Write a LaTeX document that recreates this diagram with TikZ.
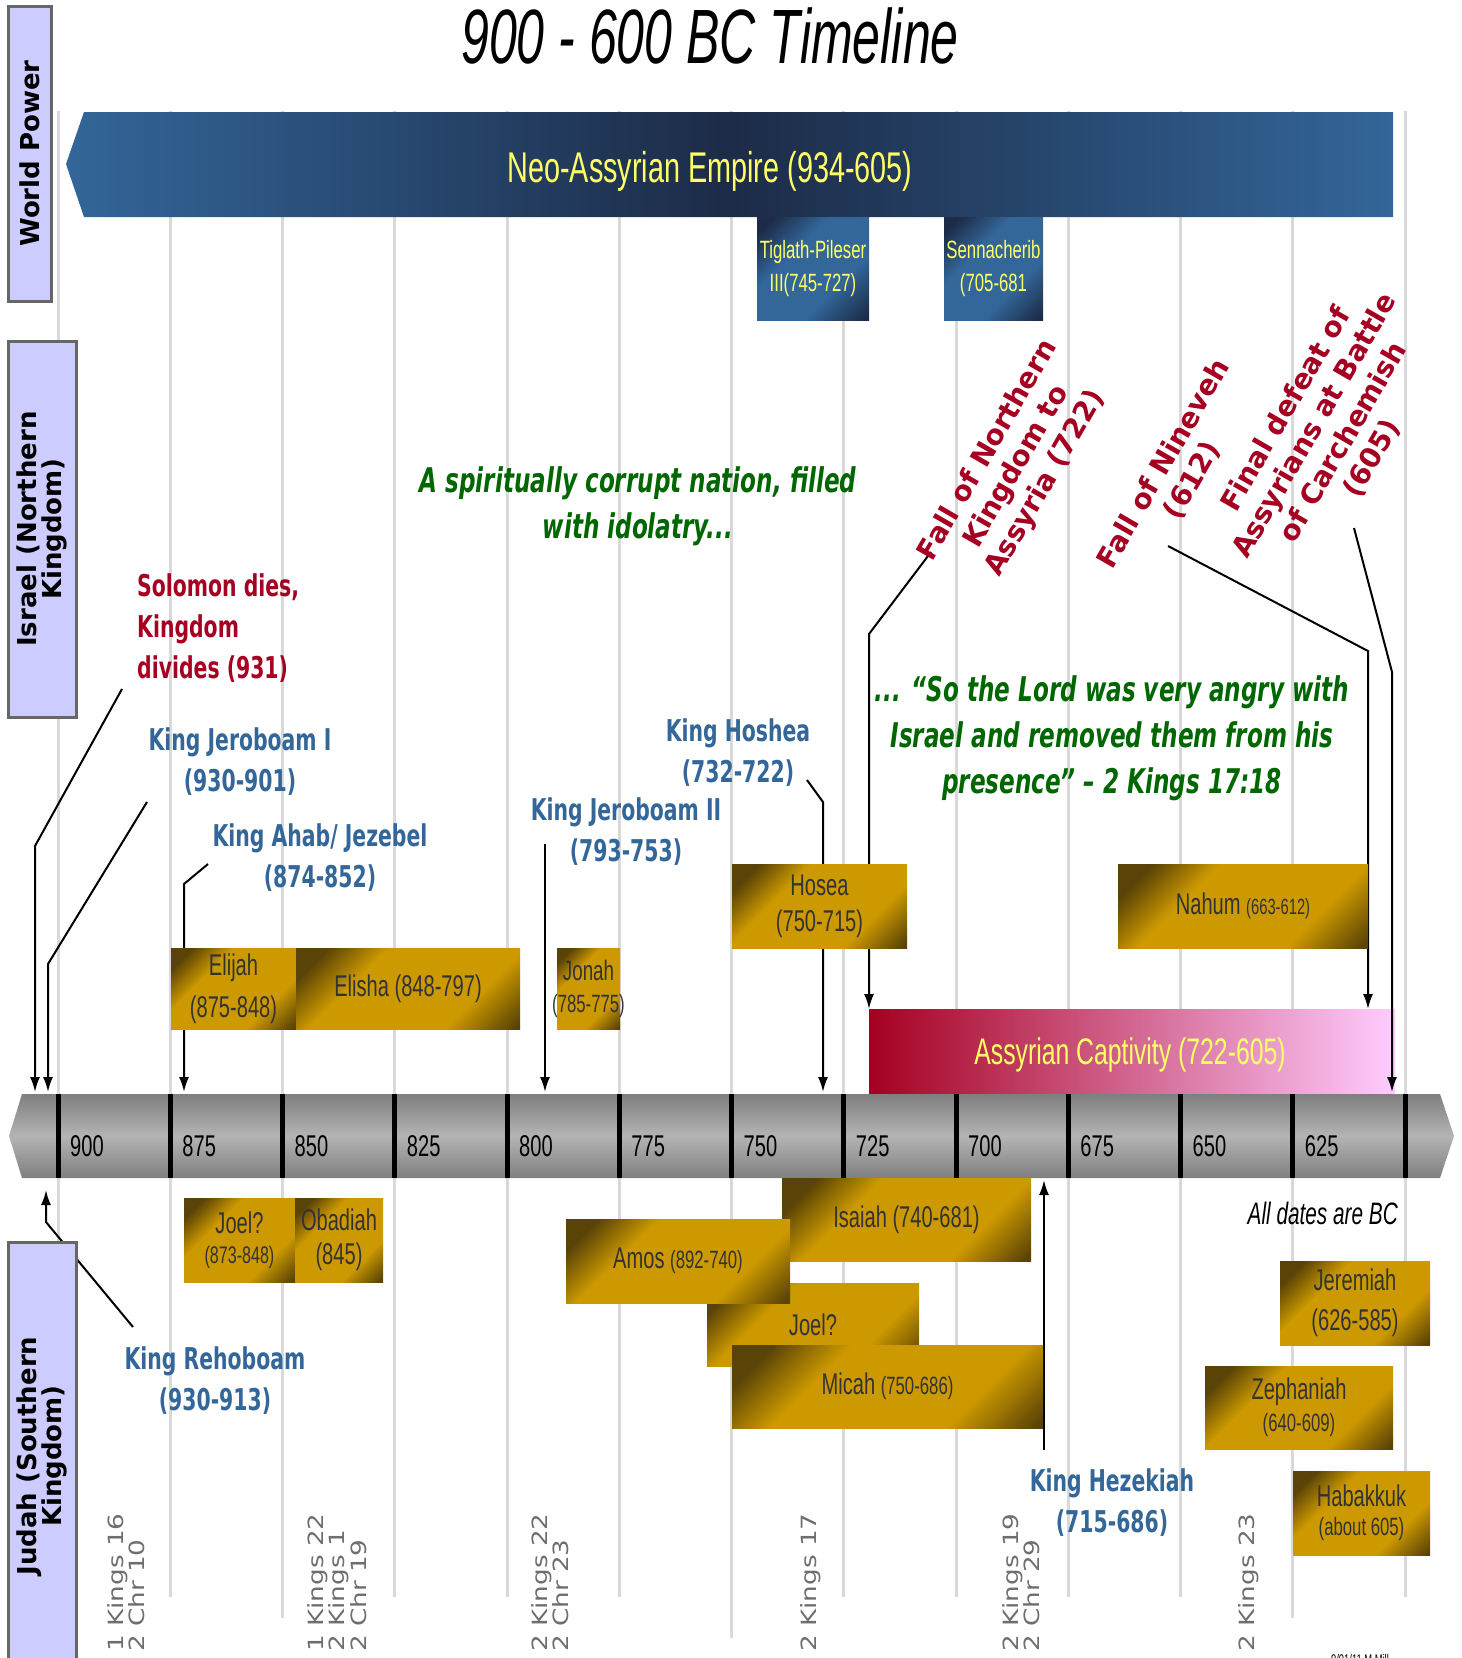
\documentclass[tikz,border=0pt]{standalone}
\usepackage{fontspec}
\setmainfont{Liberation Sans}
\newfontfamily\narrowfont[FakeStretch=0.67]{Liberation Sans}
\newfontfamily\titlefont[FakeStretch=0.65]{Liberation Sans}
\newfontfamily\lblfont[FakeStretch=0.68]{DejaVu Sans}
\newfontfamily\widefont{DejaVu Sans}
\newfontfamily\reffont[FakeStretch=1.25]{DejaVu Sans}
\usetikzlibrary{arrows.meta}

\definecolor{gridgray}{HTML}{D9D9D9}
\definecolor{lavender}{HTML}{CCCCFF}
\definecolor{crimson}{HTML}{A50021}
\definecolor{kingblue}{HTML}{336699}
\definecolor{quotegreen}{HTML}{006600}
\definecolor{yearyellow}{HTML}{FFFF66}
\definecolor{golddk}{HTML}{5A4306}
\definecolor{goldmd}{HTML}{CC9900}
\definecolor{navydk}{HTML}{1C2B47}
\definecolor{navymd}{HTML}{336699}
\definecolor{axisdk}{HTML}{7F7F7F}
\definecolor{axislt}{HTML}{B4B4B4}
\definecolor{captpink}{HTML}{FFCCFF}
\definecolor{boxtext}{HTML}{333333}
\definecolor{refgray}{HTML}{6E6E6E}

\pgfdeclarehorizontalshading{goldshade}{100bp}{color(0bp)=(golddk); color(22bp)=(golddk); color(36bp)=(goldmd); color(68bp)=(goldmd); color(84bp)=(golddk); color(100bp)=(golddk)}
\pgfdeclarehorizontalshading{navyshade}{100bp}{color(0bp)=(navydk); color(20bp)=(navydk); color(38bp)=(navymd); color(64bp)=(navymd); color(84bp)=(navydk); color(100bp)=(navydk)}

\begin{document}
\begin{tikzpicture}[x=1pt,y=-1pt,>={Latex[length=15pt,width=10pt]},
	gridline/.style={gridgray, line width=3pt},
	arr/.style={->, line width=2pt},
	sidebox/.style={draw=black!60, line width=3pt, fill=lavender, rotate=90, align=center, inner sep=0pt, font=\widefont\bfseries\fontsize{26}{25}\selectfont},
	goldbox/.style={shade, shading=goldshade, shading angle=-45, inner sep=0pt, text=boxtext, align=center, font=\narrowfont\fontsize{30}{36}\selectfont},
	navybox/.style={shade, shading=navyshade, shading angle=-45, inner sep=0pt, text=yearyellow, align=center, font=\narrowfont\fontsize{25}{33}\selectfont},
	kinglabel/.style={text=kingblue, align=center, inner sep=0pt, font=\lblfont\bfseries\fontsize{30}{41}\selectfont},
	eventlabel/.style={text=crimson, align=center, rotate=60, inner sep=0pt, font=\widefont\bfseries\fontsize{28}{33}\selectfont},
	quotelabel/.style={text=quotegreen, align=center, inner sep=0pt, font=\lblfont\bfseries\itshape\fontsize{34}{46}\selectfont},
	yearlabel/.style={anchor=west, inner sep=0pt, font=\narrowfont\fontsize{30}{36}\selectfont},
	reflabel/.style={rotate=90, anchor=west, align=left, text=refgray, inner sep=0pt, font=\reffont\fontsize{21}{20}\selectfont}]
	\useasboundingbox (0,0) rectangle (1462,1658);

	% grid
	\foreach \i in {0,...,12}
		\draw[gridline] ({58+112.25*\i},111) -- ({58+112.25*\i},1597);
	\draw[gridline] (282.5,1597) -- (282.5,1618);
	\draw[gridline] (1292.75,1597) -- (1292.75,1618);
	\draw[gridline] (731.5,1597) -- (731.5,1638);

	\node[font=\titlefont\itshape\fontsize{77}{80}\selectfont, anchor=base] (title) at (710,63) {900 - 600 BC Timeline};

	% world power
	\shade[left color=navymd, right color=navymd, middle color=navydk] (66,164) -- (84,112) -- (1393,112) -- (1393,217) -- (84,217) -- cycle;
	\node[text=yearyellow, font=\narrowfont\fontsize{43}{48}\selectfont] (empire) at (710,171) {Neo-Assyrian Empire (934-605)};
	\node[navybox, minimum width=112pt, minimum height=103pt] (tiglath) at (813,268.5) {Tiglath-Pileser\\III(745-727)};
	\node[navybox, minimum width=99pt, minimum height=103pt] (sennach) at (993.5,268.5) {Sennacherib\\(705-681};

	% captivity and time line
	\shade[left color=crimson, right color=captpink] (869,1009) rectangle (1395,1094);
	\node[text=yearyellow, font=\narrowfont\fontsize{37}{40}\selectfont] (captivity) at (1130,1055) {Assyrian Captivity (722-605)};

	\shade[top color=axisdk, bottom color=axisdk, middle color=axislt] (9,1136) -- (22,1094) -- (1440,1094) -- (1454,1136) -- (1440,1178) -- (22,1178) -- cycle;
	\foreach \yr [count=\i from 0] in {900,875,...,625} {
		\draw[line width=5pt] ({58+112.25*\i},1094) -- ({58+112.25*\i},1178);
		\node[yearlabel] (y\yr) at ({70+112.25*\i},1146) {\yr};
	}
	\draw[line width=5pt] (1405,1094) -- (1405,1178);

	% pointers
	\coordinate (solTail) at (122,689);   \coordinate (solBend) at (35,846);   \coordinate (solTip) at (35,1092);
	\coordinate (jerATail) at (147,802);  \coordinate (jerABend) at (48,964);  \coordinate (jerATip) at (48,1092);
	\coordinate (ahabTail) at (208,864);  \coordinate (ahabBend) at (184,884); \coordinate (ahabTip) at (184,1092);
	\coordinate (jerBTail) at (545,844);  \coordinate (jerBTip) at (545,1092);
	\coordinate (hoshTail) at (807,780);  \coordinate (hoshBend) at (823,802); \coordinate (hoshTip) at (823,1092);
	\coordinate (fallTail) at (931,552);  \coordinate (fallBend) at (869,634); \coordinate (fallTip) at (869,1009);
	\coordinate (ninTail) at (1168,546);  \coordinate (ninBend) at (1368,651); \coordinate (ninTip) at (1368,1009);
	\coordinate (carTail) at (1354,528);  \coordinate (carBend) at (1392,672); \coordinate (carTip) at (1392,1092);
	\coordinate (rehTail) at (133,1327);  \coordinate (rehBend) at (46,1222);  \coordinate (rehTip) at (46,1190);
	\coordinate (hezTail) at (1044,1450); \coordinate (hezTip) at (1044,1180);

	\draw[arr] (solTail) -- (solBend) -- (solTip);
	\draw[arr] (jerATail) -- (jerABend) -- (jerATip);
	\draw[arr] (ahabTail) -- (ahabBend) -- (ahabTip);
	\draw[arr] (jerBTail) -- (jerBTip);
	\draw[arr] (hoshTail) -- (hoshBend) -- (hoshTip);
	\draw[arr] (fallTail) -- (fallBend) -- (fallTip);
	\draw[arr] (ninTail) -- (ninBend) -- (ninTip);
	\draw[arr] (carTail) -- (carBend) -- (carTip);
	\draw[arr] (rehTail) -- (rehBend) -- (rehTip);
	\draw[arr] (hezTail) -- (hezTip);

	% prophets of Israel
	\node[goldbox, minimum width=125pt, minimum height=81pt, font=\narrowfont\fontsize{30}{42}\selectfont] (elijah) at (233.5,988.5) {Elijah\\(875-848)};
	\node[goldbox, minimum width=224pt, minimum height=81pt] (elisha) at (408,988.5) {Elisha (848-797)};
	\node[goldbox, minimum width=63pt, minimum height=81pt, font=\narrowfont\fontsize{28}{32}\selectfont] (jonah) at (588.5,988.5) {\makebox[0pt]{Jonah}\\\makebox[0pt]{\fontsize{25}{30}\selectfont(785-775)}};
	\node[goldbox, minimum width=175pt, minimum height=84pt] (hosea) at (819.5,906) {Hosea\\(750-715)};
	\node[goldbox, minimum width=250pt, minimum height=84pt] (nahum) at (1243,906) {Nahum {\fontsize{22}{26}\selectfont(663-612)}};

	% prophets of Judah
	\node[goldbox, minimum width=111pt, minimum height=84pt, font=\narrowfont\fontsize{30}{30}\selectfont] (joelA) at (239.5,1240) {Joel?\\{\fontsize{24}{28}\selectfont(873-848)}};
	\node[goldbox, minimum width=88pt, minimum height=84pt, font=\narrowfont\fontsize{30}{34}\selectfont] (obadiah) at (339,1240) {Obadiah\\(845)};
	\node[goldbox, minimum width=249pt, minimum height=83pt] (isaiah) at (906.5,1219.5) {Isaiah (740-681)};
	\node[goldbox, minimum width=212pt, minimum height=83pt] (joelB) at (813,1324.5) {Joel?};
	\node[goldbox, minimum width=224pt, minimum height=84pt] (amos) at (678,1261) {Amos {\fontsize{25}{30}\selectfont(892-740)}};
	\node[goldbox, minimum width=311pt, minimum height=83pt] (micah) at (887.5,1386.5) {Micah {\fontsize{25}{30}\selectfont(750-686)}};
	\node[goldbox, minimum width=150pt, minimum height=84pt, font=\narrowfont\fontsize{30}{40}\selectfont] (jeremiah) at (1355,1303) {Jeremiah\\(626-585)};
	\node[goldbox, minimum width=188pt, minimum height=83pt, font=\narrowfont\fontsize{30}{32}\selectfont] (zephaniah) at (1299,1407.5) {Zephaniah\\{\fontsize{25}{30}\selectfont(640-609)}};
	\node[goldbox, minimum width=137pt, minimum height=84pt, font=\narrowfont\fontsize{30}{29}\selectfont] (habakkuk) at (1361.5,1513) {Habakkuk\\{\fontsize{25}{30}\selectfont(about 605)}};

	% side headings
	\node[sidebox, minimum width=295pt, minimum height=43pt] (world) at (29.5,153.5) {World Power};
	\node[sidebox, minimum width=376pt, minimum height=68pt] (israel) at (42,529) {Israel (Northern\\Kingdom)};
	\node[sidebox, minimum width=428pt, minimum height=68pt] (judah) at (42,1456) {Judah (Southern\\Kingdom)};

	% labels
	\node[anchor=west, align=left, text=crimson, inner sep=0pt, font=\lblfont\bfseries\fontsize{30}{41}\selectfont] (solomon) at (137,628) {Solomon dies,\\Kingdom\\divides (931)};
	\node[kinglabel] (jeroboamI) at (240,762) {King Jeroboam I\\(930-901)};
	\node[kinglabel] (ahab) at (320,858) {King Ahab/ Jezebel\\(874-852)};
	\node[quotelabel] (corrupt) at (638,506) {A spiritually corrupt nation, filled\\with idolatry...};
	\node[kinglabel] (jeroboamII) at (626,832) {King Jeroboam II\\(793-753)};
	\node[kinglabel] (hoshea) at (738,753) {King Hoshea\\(732-722)};
	\node[quotelabel] (angry) at (1112,738) {... “So the Lord was very angry with\\Israel and removed them from his\\presence” – 2 Kings 17:18};
	\node[eventlabel] (fallN) at (1017,467) {Fall of Northern\\Kingdom to\\Assyria (722)};
	\node[eventlabel] (fallNin) at (1178,472) {Fall of Nineveh\\(612)};
	\node[eventlabel] (carch) at (1329,434) {Final defeat of\\Assyrians at Battle\\of Carchemish\\(605)};
	\node[kinglabel] (rehoboam) at (215,1381) {King Rehoboam\\(930-913)};
	\node[kinglabel] (hezekiah) at (1112,1503) {King Hezekiah\\(715-686)};
	\node[anchor=east, inner sep=0pt, font=\narrowfont\itshape\fontsize{31}{34}\selectfont] (alldates) at (1398,1213) {All dates are BC};

	% scripture references
	\node[reflabel] (ref1) at (126,1652) {1 Kings 16\\2 Chr 10};
	\node[reflabel] (ref2) at (337,1652) {1 Kings 22\\2 Kings 1\\2 Chr 19};
	\node[reflabel] (ref3) at (550,1652) {2 Kings 22\\2 Chr 23};
	\node[reflabel] (ref4) at (811,1652) {2 Kings 17};
	\node[reflabel] (ref5) at (1021,1652) {2 Kings 19\\2 Chr 29};
	\node[reflabel] (ref6) at (1249,1652) {2 Kings 23};
	\node[font=\narrowfont\fontsize{14}{16}\selectfont] (stamp) at (1360,1659) {9/01/11 M.Mill};
\end{tikzpicture}
\end{document}
